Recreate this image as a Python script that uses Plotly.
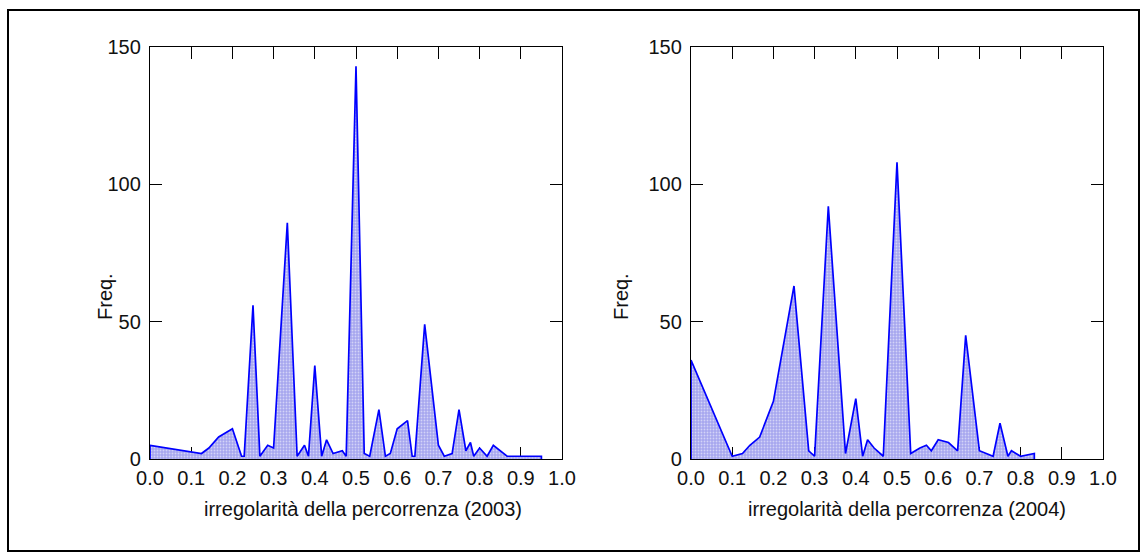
import plotly.graph_objects as go

# Frequency of route irregularity, 2003
x03 = [0, 0.125, 0.1429, 0.1667, 0.2, 0.2222, 0.2286, 0.25, 0.2667, 0.2857,
       0.3, 0.3333, 0.3571, 0.375, 0.3846, 0.4, 0.4167, 0.4286, 0.4444, 0.4667,
       0.4762, 0.5, 0.52, 0.5333, 0.5556, 0.5714, 0.5833, 0.6, 0.625, 0.6364,
       0.6429, 0.6667, 0.7, 0.7143, 0.7333, 0.75, 0.7667, 0.7778, 0.7857, 0.8,
       0.8182, 0.8333, 0.8667, 0.95]
y03 = [5, 2, 4, 8, 11, 1, 1, 56, 1, 5,
       4, 86, 1, 5, 1, 34, 1, 7, 2, 3,
       1, 143, 2, 1, 18, 1, 2, 11, 14, 1,
       1, 49, 5, 1, 2, 18, 3, 6, 1, 4,
       1, 5, 1, 1]

# Frequency of route irregularity, 2004
x04 = [0, 0.1, 0.125, 0.1429, 0.1667, 0.2, 0.25, 0.2857, 0.3, 0.3333,
       0.375, 0.4, 0.4167, 0.4286, 0.4444, 0.4667, 0.5, 0.5333, 0.5556, 0.5714,
       0.5833, 0.6, 0.625, 0.6471, 0.6667, 0.7, 0.7333, 0.75, 0.7692, 0.7778,
       0.8, 0.8333]
y04 = [36, 1, 2, 5, 8, 21, 63, 3, 1, 92,
       2, 22, 1, 7, 4, 1, 108, 2, 4, 5,
       3, 7, 6, 3, 45, 3, 1, 13, 1, 3,
       1, 2]

x_ticks = [0.0, 0.1, 0.2, 0.3, 0.4, 0.5, 0.6, 0.7, 0.8, 0.9, 1.0]
x_tick_text = ["0.0", "0.1", "0.2", "0.3", "0.4", "0.5", "0.6", "0.7", "0.8", "0.9", "1.0"]
y_ticks = [0, 50, 100, 150]
x_titles = ["irregolarità della percorrenza (2003)", "irregolarità della percorrenza (2004)"]
y_title = "Freq."

FONT = "Liberation Sans, Arial, sans-serif"
FSIZE = 20
W, H = 1147, 560
ML, MR, MT, MB = 150, 44, 47, 101
PW, PH = W - ML - MR, H - MT - MB


def px_x(p):
    return (p - ML) / PW


def px_y(p):
    return (H - MB - p) / PH


def polygon(xs, ys):
    # closed outline: down to the baseline at both ends
    return [xs[0]] + list(xs) + [xs[-1]], [0] + list(ys) + [0]


fig = go.Figure()
for xs, ys, xa, ya in [(x03, y03, "x", "y"), (x04, y04, "x2", "y2")]:
    px, py = polygon(xs, ys)
    fig.add_trace(go.Scatter(
        x=px, y=py, xaxis=xa, yaxis=ya, mode="lines",
        line=dict(color="#0000ff", width=1.7),
        fill="toself",
        fillcolor="#b4b4f2",
        fillpattern=dict(shape=".", bgcolor="#a6a6ee", fgcolor="#ffffff",
                         size=3, solidity=0.3),
        hoverinfo="skip", showlegend=False,
    ))

axis_common = dict(
    showline=True, linecolor="#000000", linewidth=1.3, mirror="ticks",
    ticks="inside", ticklen=12, tickwidth=1.2, tickcolor="#000000",
    showgrid=False, zeroline=False, layer="below traces",
    tickfont=dict(family=FONT, size=FSIZE, color="#111111"),
)

left_dom = [0, px_x(562)]
right_dom = [px_x(691), 1]

fig.update_layout(
    width=W, height=H,
    margin=dict(l=ML, r=MR, t=MT, b=MB, pad=0),
    paper_bgcolor="white", plot_bgcolor="white",
    xaxis=dict(domain=left_dom, range=[0, 1], tickvals=x_ticks, ticktext=x_tick_text,
               anchor="y", ticklabelstandoff=1, **axis_common),
    yaxis=dict(domain=[0, 1], range=[0, 150], tickvals=y_ticks, anchor="x",
               ticklabelstandoff=4, **axis_common),
    xaxis2=dict(domain=right_dom, range=[0, 1], tickvals=x_ticks, ticktext=x_tick_text,
                anchor="y2", ticklabelstandoff=1, **axis_common),
    yaxis2=dict(domain=[0, 1], range=[0, 150], tickvals=y_ticks, anchor="x2",
                ticklabelstandoff=4, **axis_common),
    shapes=[dict(type="rect", xref="paper", yref="paper",
                 x0=px_x(8), x1=px_x(1139), y0=px_y(551), y1=px_y(10),
                 line=dict(color="#000000", width=2), fillcolor="rgba(0,0,0,0)")],
)

annotations = []
for cx, title in [(363, x_titles[0]), (907, x_titles[1])]:
    annotations.append(dict(
        text=title, xref="paper", yref="paper", x=px_x(cx), y=px_y(509),
        xanchor="center", yanchor="middle", showarrow=False,
        font=dict(family=FONT, size=FSIZE, color="#111111")))
for cx in [105, 621]:
    annotations.append(dict(
        text=y_title, xref="paper", yref="paper", x=px_x(cx), y=px_y(297),
        xanchor="center", yanchor="middle", showarrow=False, textangle=-90,
        font=dict(family=FONT, size=FSIZE, color="#111111")))
fig.update_layout(annotations=annotations)

fig.write_html("out.html")
